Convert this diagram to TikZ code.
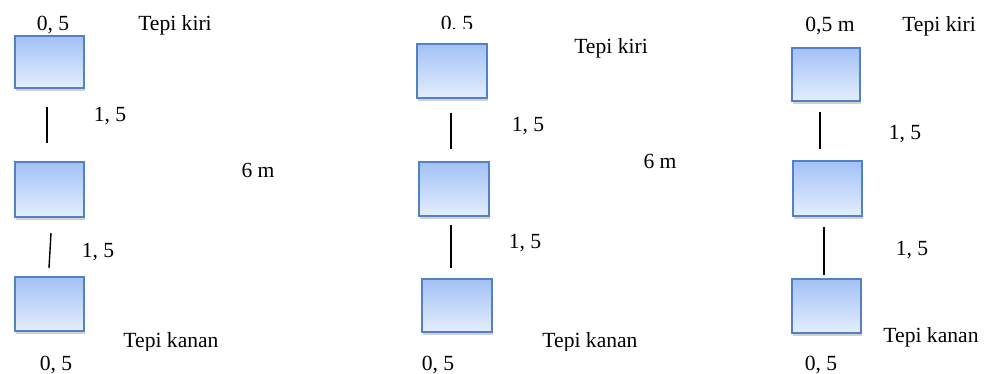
\documentclass[tikz,border=0pt]{standalone}
\usepackage{fontspec}
\setmainfont{Liberation Serif}
\usetikzlibrary{shadows}
\definecolor{boxtop}{HTML}{A3C1F7}
\definecolor{boxbot}{HTML}{E4EEFD}
\definecolor{boxline}{HTML}{5282C2}
\begin{document}
\begin{tikzpicture}[x=1pt,y=-1pt,
  pole/.style={rectangle,draw=boxline,line width=1.6pt,inner sep=0pt,
    top color=boxtop,bottom color=boxbot,
    drop shadow={shadow xshift=0.5pt,shadow yshift=-3pt,opacity=0.3,fill=black!60}},
  lbl/.style={anchor=base,inner sep=0pt,font=\fontsize{21.6}{24}\selectfont},
  gap/.style={line width=1.4pt,black}]
\path[use as bounding box] (0,0) rectangle (987,374);

% left layout
\node[pole,minimum width=69pt,minimum height=52pt] (a1) at (49.5,62) {};
\node[pole,minimum width=69pt,minimum height=55pt] (a2) at (49.5,189.5) {};
\node[pole,minimum width=69pt,minimum height=54pt] (a3) at (49.5,304) {};
\coordinate (a12t) at (47,107); \coordinate (a12b) at (47,143);
\coordinate (a23t) at (51,233); \coordinate (a23b) at (49,268);
\draw[gap] (a12t) -- (a12b);
\draw[gap] (a23t) -- (a23b);
\node[lbl] (at0) at (53,31) {0, 5};
\node[lbl] (atk) at (175,31) {Tepi kiri};
\node[lbl] (am1) at (110,122) {1, 5};
\node[lbl] (a6m) at (258,178) {6 m};
\node[lbl] (am2) at (98,257) {1, 5};
\begin{scope}
  \clip (100,320) rectangle (260,350);
  \node[lbl] (atn) at (171,347) {Tepi kanan};
\end{scope}
\node[lbl] (ab0) at (56,370) {0, 5};

% middle layout
\node[pole,minimum width=70pt,minimum height=54pt] (b1) at (452,71) {};
\node[pole,minimum width=70pt,minimum height=54pt] (b2) at (454,189) {};
\node[pole,minimum width=70pt,minimum height=53pt] (b3) at (457,305.5) {};
\coordinate (b12t) at (451,113); \coordinate (b12b) at (451,149);
\coordinate (b23t) at (451,225); \coordinate (b23b) at (451,268);
\draw[gap] (b12t) -- (b12b);
\draw[gap] (b23t) -- (b23b);
\begin{scope}
  \clip (420,0) rectangle (500,29);
  \node[lbl] (bt0) at (457,31) {0, 5};
\end{scope}
\node[lbl] (btk) at (611,54) {Tepi kiri};
\node[lbl] (bm1) at (528,132) {1, 5};
\node[lbl] (b6m) at (660,168) {6 m};
\node[lbl] (bm2) at (525,248) {1, 5};
\begin{scope}
  \clip (520,320) rectangle (680,350);
  \node[lbl] (btn) at (590,347) {Tepi kanan};
\end{scope}
\node[lbl] (bb0) at (438,370) {0, 5};

% right layout
\node[pole,minimum width=68pt,minimum height=53pt] (c1) at (826,74.5) {};
\node[pole,minimum width=69pt,minimum height=55pt] (c2) at (827.5,188.5) {};
\node[pole,minimum width=69pt,minimum height=54pt] (c3) at (826.5,306) {};
\coordinate (c12t) at (820,112); \coordinate (c12b) at (820,149);
\coordinate (c23t) at (824,227); \coordinate (c23b) at (824,275);
\draw[gap] (c12t) -- (c12b);
\draw[gap] (c23t) -- (c23b);
\node[lbl] (ct0) at (830,32) {0,5 m};
\node[lbl] (ctk) at (939,32) {Tepi kiri};
\node[lbl] (cm1) at (905,140) {1, 5};
\node[lbl] (cm2) at (912,255) {1, 5};
\node[lbl] (ctn) at (931,342) {Tepi kanan};
\node[lbl] (cb0) at (821,370) {0, 5};
\end{tikzpicture}
\end{document}
